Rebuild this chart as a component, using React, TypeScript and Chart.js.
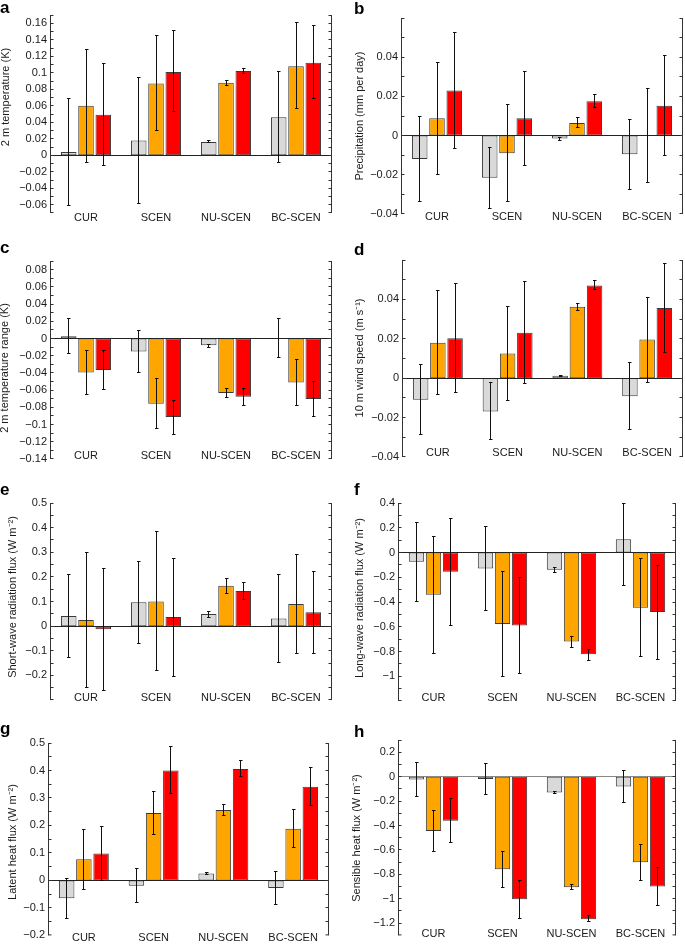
import React, { useEffect, useRef } from 'react';
import { Chart, registerables } from 'chart.js';
Chart.register(...registerables);

const categories = ['CUR', 'SCEN', 'NU-SCEN', 'BC-SCEN'];

// ---- a: 2 m temperature (K)
const aTicks = [-0.06, -0.04, -0.02, 0, 0.02, 0.04, 0.06, 0.08, 0.1, 0.12, 0.14, 0.16];
const aGray = [0.004, 0.018, 0.016, 0.046];
const aGrayLo = [-0.061, -0.058, 0.015, -0.009];
const aGrayHi = [0.069, 0.094, 0.018, 0.101];
const aOrange = [0.06, 0.087, 0.088, 0.108];
const aOrangeLo = [-0.009, 0.03, 0.085, 0.057];
const aOrangeHi = [0.128, 0.145, 0.091, 0.161];
const aRed = [0.049, 0.101, 0.102, 0.112];
const aRedLo = [-0.012, 0.053, 0.099, 0.069];
const aRedHi = [0.111, 0.151, 0.105, 0.157];

// ---- b: Precipitation (mm per day)
const bTicks = [-0.04, -0.02, 0, 0.02, 0.04];
const bGray = [-0.012, -0.0215, -0.0015, -0.0095];
const bGrayLo = [-0.0335, -0.037, -0.0025, -0.0273];
const bGrayHi = [0.0096, -0.0062, -0.001, 0.008];
const bOrange = [0.0088, -0.009, 0.0064, 0];
const bOrangeLo = [-0.02, -0.0336, 0.004, -0.024];
const bOrangeHi = [0.0375, 0.016, 0.009, 0.024];
const bRed = [0.023, 0.0088, 0.0175, 0.0152];
const bRedLo = [-0.0064, -0.0154, 0.0142, -0.0103];
const bRedHi = [0.0528, 0.0327, 0.0208, 0.041];

// ---- c: 2 m temperature range (K)
const cTicks = [-0.14, -0.12, -0.1, -0.08, -0.06, -0.04, -0.02, 0, 0.02, 0.04, 0.06, 0.08];
const cGray = [0.0025, -0.015, -0.008, 0];
const cGrayLo = [-0.0175, -0.039, -0.0105, -0.022];
const cGrayHi = [0.0235, 0.0097, -0.007, 0.0228];
const cOrange = [-0.0395, -0.0757, -0.0634, -0.051];
const cOrangeLo = [-0.065, -0.1047, -0.069, -0.0777];
const cOrangeHi = [-0.0135, -0.0464, -0.058, -0.0244];
const cRed = [-0.0367, -0.0912, -0.0676, -0.0703];
const cRedLo = [-0.0587, -0.111, -0.0773, -0.0908];
const cRedHi = [-0.0139, -0.0715, -0.0584, -0.0495];

// ---- d: 10 m wind speed (m s-1)
const dTicks = [-0.04, -0.02, 0, 0.02, 0.04];
const dGray = [-0.011, -0.0169, 0.0012, -0.0091];
const dGrayLo = [-0.0287, -0.0312, 0.0009, -0.026];
const dGrayHi = [0.0068, -0.0022, 0.0015, 0.0079];
const dOrange = [0.018, 0.0125, 0.0363, 0.0196];
const dOrangeLo = [-0.0081, -0.0115, 0.0344, -0.0022];
const dOrangeHi = [0.0444, 0.0363, 0.038, 0.0412];
const dRed = [0.0203, 0.0231, 0.0471, 0.0356];
const dRedLo = [-0.0073, -0.0029, 0.0449, 0.013];
const dRedHi = [0.0481, 0.0493, 0.0494, 0.058];

// ---- e: Short-wave radiation flux (W m-2)
const eTicks = [-0.2, -0.1, 0, 0.1, 0.2, 0.3, 0.4, 0.5];
const eGray = [0.041, 0.097, 0.049, 0.031];
const eGrayLo = [-0.126, -0.071, 0.037, -0.147];
const eGrayHi = [0.208, 0.264, 0.061, 0.208];
const eOrange = [0.025, 0.1, 0.164, 0.09];
const eOrangeLo = [-0.249, -0.182, 0.134, -0.111];
const eOrangeHi = [0.299, 0.385, 0.194, 0.289];
const eRed = [-0.013, 0.037, 0.143, 0.056];
const eRedLo = [-0.261, -0.204, 0.109, -0.11];
const eRedHi = [0.234, 0.273, 0.177, 0.22];

// ---- f: Long-wave radiation flux (W m-2)
const fTicks = [-1, -0.8, -0.6, -0.4, -0.2, 0, 0.2, 0.4];
const fGray = [-0.075, -0.129, -0.14, 0.108];
const fGrayLo = [-0.398, -0.468, -0.159, -0.27];
const fGrayHi = [0.245, 0.212, -0.12, 0.392];
const fOrange = [-0.341, -0.578, -0.72, -0.446];
const fOrangeLo = [-0.815, -1.005, -0.769, -0.842];
const fOrangeHi = [0.126, -0.15, -0.677, -0.051];
const fRed = [-0.156, -0.589, -0.823, -0.481];
const fRedLo = [-0.586, -0.978, -0.874, -0.862];
const fRedHi = [0.277, -0.199, -0.78, -0.102];

// ---- g: Latent heat flux (W m-2)
const gTicks = [-0.2, -0.1, 0, 0.1, 0.2, 0.3, 0.4, 0.5];
const gGray = [-0.065, -0.019, 0.025, -0.028];
const gGrayLo = [-0.139, -0.08, 0.021, -0.088];
const gGrayHi = [0.008, 0.044, 0.028, 0.033];
const gOrange = [0.077, 0.245, 0.256, 0.188];
const gOrangeLo = [-0.032, 0.168, 0.235, 0.12];
const gOrangeHi = [0.185, 0.323, 0.277, 0.257];
const gRed = [0.098, 0.4, 0.405, 0.341];
const gRedLo = [-0.002, 0.316, 0.379, 0.272];
const gRedHi = [0.198, 0.487, 0.435, 0.412];

// ---- h: Sensible heat flux (W m-2)
const hTicks = [-1.2, -1, -0.8, -0.6, -0.4, -0.2, 0, 0.2];
const hGray = [-0.024, -0.019, -0.13, -0.081];
const hGrayLo = [-0.165, -0.149, -0.135, -0.208];
const hGrayHi = [0.113, 0.105, -0.125, 0.049];
const hOrange = [-0.446, -0.759, -0.905, -0.7];
const hOrangeLo = [-0.616, -0.908, -0.927, -0.849];
const hOrangeHi = [-0.276, -0.614, -0.884, -0.554];
const hRed = [-0.362, -1.005, -1.168, -0.9];
const hRedLo = [-0.543, -1.159, -1.189, -1.059];
const hRedHi = [-0.181, -0.851, -1.138, -0.741];

const W = 685;
const H = 946;
const FONT = '"Liberation Sans", Arial, Helvetica, sans-serif';
const COLORS = ['#d9d9d9', '#ffa500', '#ff0000'];

type Series = { v: number[]; lo: number[]; hi: number[] };
type Panel = {
  letter: string; title: string; ticks: number[]; min: number; max: number; step: number;
  series: Series[]; L: number; R: number; T: number; B: number;
  labelY: number; titleX: number; titleY: number; letterX: number; letterY: number; zero: string;
};

const panels: Panel[] = [
  { letter: 'a', title: '2 m temperature (K)', ticks: aTicks, min: -0.07, max: 0.17, step: 0.01,
    series: [{ v: aGray, lo: aGrayLo, hi: aGrayHi }, { v: aOrange, lo: aOrangeLo, hi: aOrangeHi }, { v: aRed, lo: aRedLo, hi: aRedHi }],
    L: 51, R: 331, T: 15, B: 213, labelY: 218, titleX: 6, titleY: 97, letterX: 0, letterY: 13, zero: '#222' },
  { letter: 'b', title: 'Precipitation (mm per day)', ticks: bTicks, min: -0.04, max: 0.06, step: 0.01,
    series: [{ v: bGray, lo: bGrayLo, hi: bGrayHi }, { v: bOrange, lo: bOrangeLo, hi: bOrangeHi }, { v: bRed, lo: bRedLo, hi: bRedHi }],
    L: 402, R: 682, T: 18, B: 214, labelY: 217, titleX: 360, titleY: 116, letterX: 354, letterY: 14, zero: '#222' },
  { letter: 'c', title: '2 m temperature range (K)', ticks: cTicks, min: -0.14, max: 0.09, step: 0.01,
    series: [{ v: cGray, lo: cGrayLo, hi: cGrayHi }, { v: cOrange, lo: cOrangeLo, hi: cOrangeHi }, { v: cRed, lo: cRedLo, hi: cRedHi }],
    L: 51, R: 331, T: 261, B: 459, labelY: 456, titleX: 5, titleY: 368, letterX: 0, letterY: 253, zero: '#222' },
  { letter: 'd', title: '10 m wind speed (m s\u207B\u00B9)', ticks: dTicks, min: -0.04, max: 0.06, step: 0.01,
    series: [{ v: dGray, lo: dGrayLo, hi: dGrayHi }, { v: dOrange, lo: dOrangeLo, hi: dOrangeHi }, { v: dRed, lo: dRedLo, hi: dRedHi }],
    L: 403, R: 682, T: 260, B: 457, labelY: 453, titleX: 360, titleY: 358, letterX: 354, letterY: 255, zero: '#222' },
  { letter: 'e', title: 'Short-wave radiation flux (W m\u207B\u00B2)', ticks: eTicks, min: -0.3, max: 0.5, step: 0.05,
    series: [{ v: eGray, lo: eGrayLo, hi: eGrayHi }, { v: eOrange, lo: eOrangeLo, hi: eOrangeHi }, { v: eRed, lo: eRedLo, hi: eRedHi }],
    L: 51, R: 331, T: 503, B: 700, labelY: 698, titleX: 13, titleY: 597, letterX: 0, letterY: 495, zero: '#222' },
  { letter: 'f', title: 'Long-wave radiation flux (W m\u207B\u00B2)', ticks: fTicks, min: -1.2, max: 0.4, step: 0.1,
    series: [{ v: fGray, lo: fGrayLo, hi: fGrayHi }, { v: fOrange, lo: fOrangeLo, hi: fOrangeHi }, { v: fRed, lo: fRedLo, hi: fRedHi }],
    L: 399, R: 675, T: 503, B: 701, labelY: 698, titleX: 360, titleY: 598, letterX: 354, letterY: 495, zero: '#222' },
  { letter: 'g', title: 'Latent heat flux (W m\u207B\u00B2)', ticks: gTicks, min: -0.2, max: 0.5, step: 0.05,
    series: [{ v: gGray, lo: gGrayLo, hi: gGrayHi }, { v: gOrange, lo: gOrangeLo, hi: gOrangeHi }, { v: gRed, lo: gRedLo, hi: gRedHi }],
    L: 49, R: 328, T: 743, B: 939, labelY: 938, titleX: 13, titleY: 842, letterX: 0, letterY: 734, zero: '#222' },
  { letter: 'h', title: 'Sensible heat flux (W m\u207B\u00B2)', ticks: hTicks, min: -1.3, max: 0.3, step: 0.1,
    series: [{ v: hGray, lo: hGrayLo, hi: hGrayHi }, { v: hOrange, lo: hOrangeLo, hi: hOrangeHi }, { v: hRed, lo: hRedLo, hi: hRedHi }],
    L: 399, R: 675, T: 740, B: 937, labelY: 934, titleX: 357, titleY: 838, letterX: 354, letterY: 737, zero: '#888' },
];

const fmt = (v: number) => String(Math.round(v * 1000) / 1000).replace('-', '\u2212');

function makeChart(canvas: HTMLCanvasElement, p: Panel) {
  const decor = {
    id: 'decor',
    afterDatasetsDraw(chart: any) {
      const { ctx, chartArea: ca, scales } = chart;
      const x = scales.x, y = scales.y;
      const snap = (v: number) => Math.round(v) + 0.5;
      ctx.save();
      ctx.lineWidth = 1;
      // zero line
      const y0 = snap(y.getPixelForValue(0) - 0.5);
      ctx.strokeStyle = p.zero;
      ctx.beginPath();
      ctx.moveTo(ca.left, y0);
      ctx.lineTo(ca.right, y0);
      ctx.stroke();
      // error bars
      ctx.strokeStyle = '#111';
      p.series.forEach((s, i) => {
        const meta = chart.getDatasetMeta(i);
        meta.data.forEach((el: any, j: number) => {
          const xp = snap(el.x - 0.5);
          const yl = snap(y.getPixelForValue(s.lo[j]) - 0.5);
          const yh = snap(y.getPixelForValue(s.hi[j]) - 0.5);
          ctx.beginPath();
          ctx.moveTo(xp, yl); ctx.lineTo(xp, yh);
          ctx.moveTo(xp - 1.5, yl); ctx.lineTo(xp + 2, yl);
          ctx.moveTo(xp - 1.5, yh); ctx.lineTo(xp + 2, yh);
          ctx.stroke();
        });
      });
      // axes
      const xl = Math.round(ca.left) - 0.5;
      const xr = Math.round(ca.right) + 0.5;
      ctx.strokeStyle = '#333';
      ctx.beginPath();
      ctx.moveTo(xl, ca.top); ctx.lineTo(xl, ca.bottom);
      ctx.moveTo(xr, ca.top); ctx.lineTo(xr, ca.bottom);
      const n = Math.round((p.max - p.min) / p.step);
      for (let k = 0; k <= n; k++) {
        const v = p.min + k * p.step;
        const yy = Math.min(Math.max(snap(y.getPixelForValue(v) - 0.5), ca.top + 0.5), ca.bottom - 0.5);
        ctx.moveTo(xl, yy); ctx.lineTo(xl + 3, yy);
        ctx.moveTo(xr, yy); ctx.lineTo(xr - 3, yy);
      }
      ctx.stroke();
      // category labels
      ctx.fillStyle = '#1a1a1a';
      ctx.font = `11px ${FONT}`;
      ctx.textAlign = 'center';
      ctx.textBaseline = 'middle';
      categories.forEach((c, j) => ctx.fillText(c, x.getPixelForValue(j), p.labelY));
      // y title
      ctx.save();
      ctx.translate(p.titleX, p.titleY);
      ctx.rotate(-Math.PI / 2);
      ctx.fillText(p.title, 0, 0);
      ctx.restore();
      // panel letter
      ctx.font = `bold 17px ${FONT}`;
      ctx.textAlign = 'left';
      ctx.textBaseline = 'alphabetic';
      ctx.fillStyle = '#000';
      ctx.fillText(p.letter, p.letterX, p.letterY);
      ctx.restore();
    },
  };

  return new Chart(canvas, {
    type: 'bar',
    data: {
      labels: categories,
      datasets: p.series.map((s, i) => ({
        data: s.v,
        backgroundColor: COLORS[i],
        borderColor: '#3a3a3a',
        borderWidth: 1,
        borderSkipped: false,
        categoryPercentage: 0.74,
        barPercentage: 0.9,
      })),
    },
    options: {
      responsive: false,
      animation: false,
      events: [],
      layout: { padding: { left: 0, top: p.T, right: W - p.R, bottom: H - p.B } },
      plugins: { legend: { display: false }, tooltip: { enabled: false } },
      scales: {
        x: { display: false, offset: true },
        y: {
          min: p.min,
          max: p.max,
          grid: { display: false, drawTicks: false },
          border: { display: false },
          afterFit: (s: any) => { s.width = p.L; },
          afterBuildTicks: (s: any) => { s.ticks = p.ticks.map((v) => ({ value: v })); },
          ticks: {
            autoSkip: false,
            padding: 4,
            color: '#1a1a1a',
            font: { size: 11, family: FONT },
            callback: (v: any) => fmt(Number(v)),
          },
        },
      },
    },
    plugins: [decor],
  } as any);
}

function PanelChart({ p }: { p: Panel }) {
  const ref = useRef<HTMLCanvasElement>(null);
  useEffect(() => {
    if (!ref.current) return;
    const ch = makeChart(ref.current, p);
    return () => ch.destroy();
  }, [p]);
  return (
    <canvas
      ref={ref}
      width={W}
      height={H}
      style={{ position: 'absolute', left: 0, top: 0, width: W, height: H }}
    />
  );
}

export default function App() {
  return (
    <div style={{ position: 'absolute', left: 0, top: 0, width: W, height: H, background: '#fff', overflow: 'hidden' }}>
      {panels.map((p) => (
        <PanelChart key={p.letter} p={p} />
      ))}
    </div>
  );
}
